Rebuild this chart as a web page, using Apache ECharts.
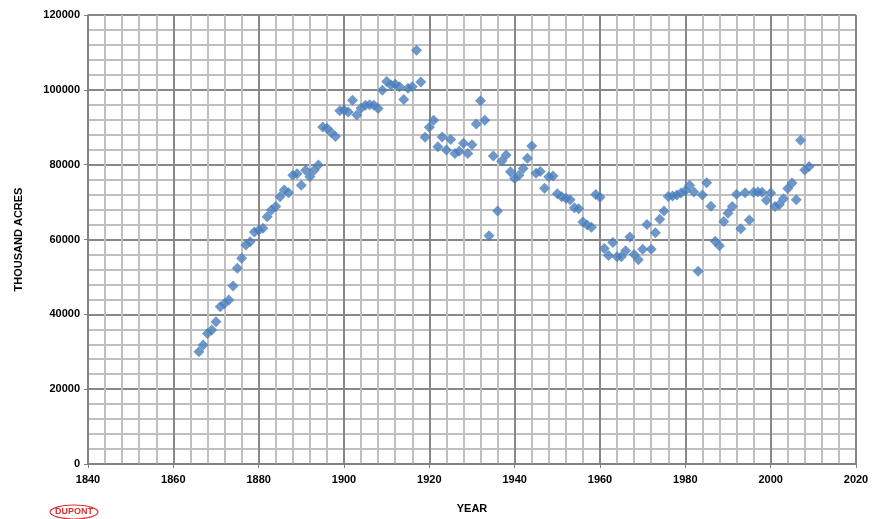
<!DOCTYPE html>
<html>
<head>
<meta charset="utf-8">
<style>html,body{margin:0;padding:0;background:#fff;}#c{width:874px;height:519px;}</style>
<script src="https://cdn.jsdelivr.net/npm/echarts@6/dist/echarts.min.js"></script>
</head>
<body>
<div id="c"></div>
<script>
const years = [
1866,1867,1868,1869,1870,1871,1872,1873,1874,1875,1876,1877,1878,1879,
1880,1881,1882,1883,1884,1885,1886,1887,1888,1889,1890,1891,1892,1893,1894,
1895,1896,1897,1898,1899,1900,1901,1902,1903,1904,1905,1906,1907,1908,1909,
1910,1911,1912,1913,1914,1915,1916,1917,1918,1919,1920,1921,1922,1923,1924,
1925,1926,1927,1928,1929,1930,1931,1932,1933,1934,1935,1936,1937,1938,1939,
1940,1941,1942,1943,1944,1945,1946,1947,1948,1949,1950,1951,1952,1953,1954,
1955,1956,1957,1958,1959,1960,1961,1962,1963,1964,1965,1966,1967,1968,1969,
1970,1971,1972,1973,1974,1975,1976,1977,1978,1979,1980,1981,1982,1983,1984,
1985,1986,1987,1988,1989,1990,1991,1992,1993,1994,1995,1996,1997,1998,1999,
2000,2001,2002,2003,2004,2005,2006,2007,2008,2009
];
const acres = [
30000,31800,34900,35800,38000,42000,42900,43800,47600,52300,55000,58500,59400,62000,
62500,63000,66100,67900,68800,71400,73200,72500,77200,77600,74500,78500,76800,78500,79900,
90100,89700,88600,87500,94400,94600,94100,97200,93300,95100,95900,96000,95900,95000,99900,
102200,101300,101500,100800,97400,100400,100800,110600,102100,87300,90000,91900,84800,87400,83900,
86700,83000,83600,85700,83000,85300,90900,97100,91900,61000,82300,67600,81000,82600,78100,
76300,77200,79000,81700,85000,77700,78200,73700,76800,77000,72200,71400,71000,70600,68500,
68200,64700,63900,63300,72000,71300,57600,55700,59200,55400,55400,57000,60700,56000,54600,
57400,64000,57400,61800,65400,67600,71500,71600,71900,72400,73000,74500,72700,51500,71900,
75200,68900,59500,58300,64800,67000,68800,72100,62900,72500,65200,72600,72700,72600,70500,
72400,68800,69300,70900,73600,75100,70600,86500,78600,79500
];
const xTitle = 'YEAR';
const yTitle = 'THOUSAND ACRES';

const chart = echarts.init(document.getElementById('c'));
const lab = {color:'#000', fontFamily:'Liberation Sans, Arial, sans-serif', fontWeight:'bold', fontSize:11};
const plain = v => String(v);
chart.setOption({
  animation:false,
  grid:{left:88, right:18, top:15, bottom:55},
  xAxis:{
    type:'value', min:1840, max:2020, interval:20,
    axisLine:{show:true, lineStyle:{color:'#808080', width:1.5}},
    axisTick:{show:true, length:4, lineStyle:{color:'#808080'}},
    axisLabel:Object.assign({margin:10, formatter:plain}, lab),
    splitLine:{show:true, lineStyle:{color:'#888888', width:2}},
    minorTick:{show:false, splitNumber:5},
    minorSplitLine:{show:true, lineStyle:{color:'#c0c0c0', width:2}},
    name:xTitle, nameLocation:'middle', nameGap:39,
    nameTextStyle:lab
  },
  yAxis:{
    type:'value', min:0, max:120000, interval:20000,
    axisLine:{show:true, lineStyle:{color:'#808080', width:1.5}},
    axisTick:{show:true, length:4, lineStyle:{color:'#808080'}},
    axisLabel:Object.assign({margin:8, formatter:plain}, lab),
    splitLine:{show:true, lineStyle:{color:'#888888', width:2}},
    minorTick:{show:false, splitNumber:5},
    minorSplitLine:{show:true, lineStyle:{color:'#c0c0c0', width:2}},
    name:yTitle, nameLocation:'middle', nameGap:64, nameRotate:90,
    nameTextStyle:lab
  },
  series:[{
    type:'scatter',
    symbol:'diamond',
    symbolSize:11,
    itemStyle:{color:'#4a7ebb'},
    data:years.map((y,i)=>[y, acres[i]])
  }],
  graphic:[
    {type:'ellipse', shape:{cx:74, cy:512, rx:24, ry:7}, style:{fill:'none', stroke:'#d83030', lineWidth:1.2}},
    {type:'text', x:74, y:512, style:{text:'DUPONT', fill:'#d83030', font:'bold 9px Liberation Sans, Arial', align:'center', verticalAlign:'middle'}}
  ]
});
</script>
</body>
</html>
